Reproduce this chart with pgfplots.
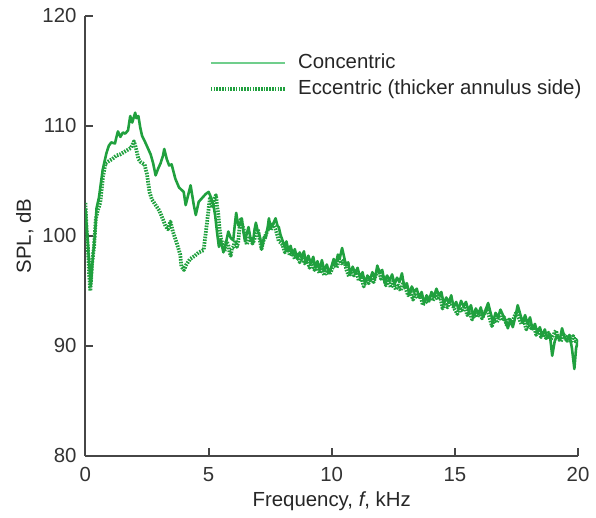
\documentclass[border=0pt]{standalone}
\usepackage{fontspec}
\setmainfont{Liberation Sans}
\usepackage{pgfplots}
\pgfplotsset{compat=1.18}

\definecolor{spgreen}{RGB}{32,160,62}
\definecolor{leggreen}{RGB}{112,206,140}
\definecolor{axgray}{RGB}{70,70,70}

\begin{document}
\begin{tikzpicture}
\begin{axis}[
    name=ax,
    scale only axis,
    width=248bp, height=221.5bp,
    xmin=0, xmax=20, ymin=80, ymax=120,
    xtick={0,5,10,15,20},
    ytick={80,90,100,110,120},
    axis lines*=left,
    axis line style={axgray, line width=1bp},
    tick style={axgray, line width=1bp},
    major tick length=4bp,
    tick align=inside,
    font=\fontsize{10.3}{12.4}\selectfont,
    /pgf/number format/assume math mode=true,
    xticklabel style={yshift=-2.2bp, text=black!80},
    yticklabel style={xshift=-1bp, text=black!80},
    xlabel={Frequency, \textit{f}, kHz},
    ylabel={SPL, dB},
    xlabel style={at={(axis description cs:0.5,-0.104)}, anchor=center, text=black!85},
    ylabel style={at={(axis description cs:-0.123,0.5)}, anchor=center, text=black!85},
    legend style={draw=none, fill=none, at={(axis description cs:0.25,0.923)},
        anchor=north west, inner sep=0pt, row sep=0bp,
        font=\fontsize{10.3}{12.4}\selectfont, text=black!85},
    legend cell align=left,
    legend image code/.code={\draw[#1] (0bp,0bp) -- (37.5bp,0bp); \path (41bp,0bp);},
]
% concentric
\addplot[spgreen, line width=1.3bp, line join=round,
    forget plot] coordinates {
(0.00,102.5) (0.08,100.0) (0.15,97.5) (0.22,95.5) (0.30,98.0) (0.40,100.5)
(0.45,102.5) (0.55,103.5) (0.70,106.0) (0.85,107.5) (0.95,108.2) (1.05,108.5)
(1.20,108.4) (1.25,108.9) (1.32,109.5) (1.42,109.0) (1.52,109.4) (1.62,109.3)
(1.73,109.6) (1.82,110.9) (1.90,110.3) (2.02,111.2) (2.07,110.7) (2.15,110.9)
(2.23,109.8) (2.30,109.1) (2.43,108.5) (2.55,107.9) (2.65,107.4) (2.75,106.6)
(2.85,105.5) (2.95,106.1) (3.05,106.6) (3.15,107.3) (3.20,107.9) (3.30,107.0)
(3.40,106.4) (3.50,106.5) (3.65,105.2) (3.80,104.4) (3.99,104.0) (4.07,102.8)
(4.27,104.6) (4.40,102.8) (4.48,101.9) (4.60,103.1) (4.72,103.4) (4.88,103.8)
(5.00,104.0) (5.10,103.5) (5.20,102.8) (5.27,101.8) (5.35,100.2) (5.42,99.0)
(5.50,99.6) (5.60,98.5) (5.70,99.3) (5.80,100.4) (5.90,99.8) (6.00,99.6)
(6.06,100.9) (6.12,102.1) (6.20,101.0) (6.25,100.9) (6.35,101.6) (6.42,100.3)
(6.48,99.5) (6.55,100.2) (6.62,100.8) (6.70,99.8) (6.80,99.3) (6.86,100.5)
(6.92,101.2) (7.00,100.4) (7.05,100.2) (7.12,99.5) (7.18,99.0) (7.25,99.9)
(7.32,99.8) (7.40,100.8) (7.45,101.6) (7.52,100.7) (7.60,101.0) (7.66,101.3)
(7.72,101.6) (7.80,100.9) (7.85,100.8) (7.92,100.1) (8.00,99.6)
(8.08,99.0) (8.16,99.5) (8.25,98.6) (8.33,99.1) (8.42,98.3) (8.50,98.8)
(8.60,97.9) (8.70,98.5) (8.78,98.0) (8.87,98.6) (8.95,97.6) (9.05,98.2)
(9.15,97.5) (9.25,98.1) (9.33,97.1) (9.42,97.7) (9.52,96.9) (9.60,97.8)
(9.70,96.8) (9.80,97.4) (9.90,96.6) (10.00,97.3) (10.08,97.9) (10.16,97.4)
(10.25,98.3) (10.33,98.0) (10.42,98.9) (10.50,98.1) (10.58,97.3) (10.67,97.6)
(10.75,96.5) (10.85,97.2) (10.95,96.6) (11.05,97.1) (11.15,96.2) (11.25,96.7)
(11.35,95.7) (11.45,96.4) (11.55,96.0) (11.65,96.7) (11.75,96.1) (11.85,97.3)
(11.95,96.6) (12.05,96.9) (12.15,95.7) (12.25,96.4) (12.35,95.9) (12.45,96.5)
(12.55,95.6) (12.65,96.2) (12.75,95.8) (12.85,96.6) (12.95,95.3) (13.05,95.7)
(13.15,94.7) (13.25,95.4) (13.35,94.9) (13.45,95.2) (13.55,94.4) (13.65,94.9)
(13.75,93.9) (13.85,94.6) (13.95,94.1) (14.05,94.9) (14.15,94.5) (14.25,95.2)
(14.35,94.6) (14.45,94.9) (14.55,93.8) (14.65,94.4) (14.75,93.9) (14.85,94.6)
(14.95,93.5) (15.05,94.0) (15.15,93.3) (15.25,94.1) (15.35,93.6) (15.45,94.0)
(15.55,93.2) (15.65,93.7) (15.75,92.7) (15.85,93.4) (15.95,92.9) (16.05,93.5)
(16.15,92.6) (16.25,93.3) (16.35,93.9) (16.45,93.0) (16.55,92.2) (16.65,93.0)
(16.75,92.6) (16.85,93.3) (16.95,92.8) (17.05,92.3) (17.15,91.6) (17.25,92.4)
(17.35,91.7) (17.45,92.6) (17.55,93.7) (17.65,92.9) (17.75,92.1) (17.85,92.8)
(17.95,92.0) (18.05,92.6) (18.15,91.5) (18.25,92.0) (18.35,91.2) (18.45,91.7)
(18.55,90.9) (18.65,91.5) (18.75,90.7) (18.85,91.1) (18.95,89.1) (19.05,90.4)
(19.15,91.0) (19.25,90.5) (19.35,91.6) (19.45,90.8) (19.55,90.4) (19.65,91.0)
(19.75,89.8) (19.85,87.9) (19.92,89.8) (20.00,90.5)
};
% eccentric (thicker annulus side)
\addplot[spgreen, line width=1.9bp, dash pattern=on 0.8bp off 0.6bp,
    line join=round, forget plot] coordinates {
(0.00,103.0) (0.05,100.5) (0.10,99.0) (0.15,96.5) (0.20,95.0) (0.27,97.5)
(0.35,99.0) (0.42,101.5) (0.50,102.3) (0.60,103.0) (0.72,105.5) (0.82,106.6)
(0.95,106.8) (1.10,107.0) (1.25,107.3) (1.40,107.4) (1.55,107.6) (1.70,107.8)
(1.85,108.0) (1.97,108.6) (2.05,108.0) (2.15,107.0) (2.25,106.7) (2.40,106.5)
(2.50,105.6) (2.60,104.0) (2.70,103.3) (2.85,102.8) (3.00,102.3) (3.15,101.5)
(3.25,100.9) (3.35,100.6) (3.45,101.3) (3.55,100.4) (3.70,99.4) (3.85,98.3)
(3.90,97.2) (4.00,96.9) (4.10,97.4) (4.25,97.9) (4.45,98.2) (4.60,98.5)
(4.80,98.7) (4.92,100.9) (5.05,103.4) (5.15,102.7) (5.22,103.3) (5.30,103.7)
(5.35,102.6) (5.40,101.9) (5.45,100.6) (5.50,99.8) (5.58,99.1) (5.65,98.6)
(5.72,99.5) (5.80,99.2) (5.85,98.5) (5.90,98.2) (5.95,98.9) (6.00,99.0)
(6.10,99.6) (6.15,99.0) (6.20,99.4) (6.25,100.6) (6.30,101.5) (6.38,100.9)
(6.45,100.4) (6.50,99.8) (6.55,99.2) (6.62,99.7) (6.70,99.9) (6.78,99.3)
(6.85,99.6) (6.92,100.2) (7.00,100.6) (7.08,99.6) (7.15,98.8) (7.22,99.5)
(7.30,100.0) (7.38,100.4) (7.45,100.8) (7.52,100.5) (7.60,101.2) (7.66,100.9)
(7.72,100.6) (7.80,100.0) (7.85,99.5) (7.92,99.4) (8.00,99.2)
(8.10,98.5) (8.20,99.0) (8.30,98.2) (8.40,98.6) (8.50,97.9) (8.60,98.3)
(8.70,97.6) (8.80,98.1) (8.90,97.5) (9.00,97.9) (9.10,97.1) (9.20,97.6)
(9.30,96.9) (9.40,97.4) (9.50,96.6) (9.60,97.1) (9.70,96.4) (9.80,96.9)
(9.90,96.5) (10.00,96.9) (10.10,97.5) (10.20,97.1) (10.30,97.9) (10.40,97.5)
(10.50,97.8) (10.60,96.9) (10.70,96.3) (10.80,96.9) (10.90,96.4) (11.00,96.8)
(11.10,95.9) (11.20,96.3) (11.30,95.4) (11.40,96.0) (11.50,95.7) (11.60,96.2)
(11.70,95.8) (11.80,96.5) (11.90,96.9) (12.00,96.1) (12.10,96.4) (12.20,95.5)
(12.30,95.9) (12.40,95.3) (12.50,95.9) (12.60,95.1) (12.70,95.5) (12.80,95.0)
(12.90,95.8) (13.00,95.2) (13.10,94.6) (13.20,95.0) (13.30,94.2) (13.40,94.8)
(13.50,94.3) (13.60,94.6) (13.70,93.7) (13.80,94.2) (13.90,93.9) (14.00,94.5)
(14.10,94.1) (14.20,94.7) (14.30,94.2) (14.40,94.5) (14.50,93.4) (14.60,93.9)
(14.70,93.5) (14.80,94.2) (14.90,93.7) (15.00,93.3) (15.10,92.9) (15.20,93.5)
(15.30,93.1) (15.40,93.6) (15.50,92.8) (15.60,93.1) (15.70,92.4) (15.80,93.0)
(15.90,92.6) (16.00,93.1) (16.10,92.5) (16.20,93.0) (16.30,93.4) (16.40,92.6)
(16.50,91.8) (16.60,92.5) (16.70,92.1) (16.80,92.8) (16.90,92.3) (17.00,92.6)
(17.10,91.9) (17.20,92.4) (17.30,92.0) (17.40,92.6) (17.50,93.1) (17.60,92.5)
(17.70,92.0) (17.80,92.3) (17.90,91.5) (18.00,92.0) (18.10,91.6) (18.20,91.9)
(18.30,91.0) (18.40,91.5) (18.50,90.8) (18.60,91.3) (18.70,90.7) (18.80,91.2)
(18.90,90.6) (19.00,91.0) (19.10,91.4) (19.20,90.7) (19.30,90.4) (19.40,91.1)
(19.50,90.6) (19.60,91.0) (19.70,90.3) (19.80,90.9) (19.90,90.4) (20.00,90.6)
};
% legend entries
\addlegendimage{leggreen, line width=1.4bp}
\addlegendentry{Concentric}
\addlegendimage{spgreen, line width=1.9bp, dash pattern=on 0.8bp off 0.6bp}
\addlegendentry{Eccentric (thicker annulus side)}
\end{axis}
\path ([shift={(-43bp,-31bp)}]ax.south west) rectangle ([shift={(255bp,229.5bp)}]ax.south west);
\end{tikzpicture}
\end{document}
